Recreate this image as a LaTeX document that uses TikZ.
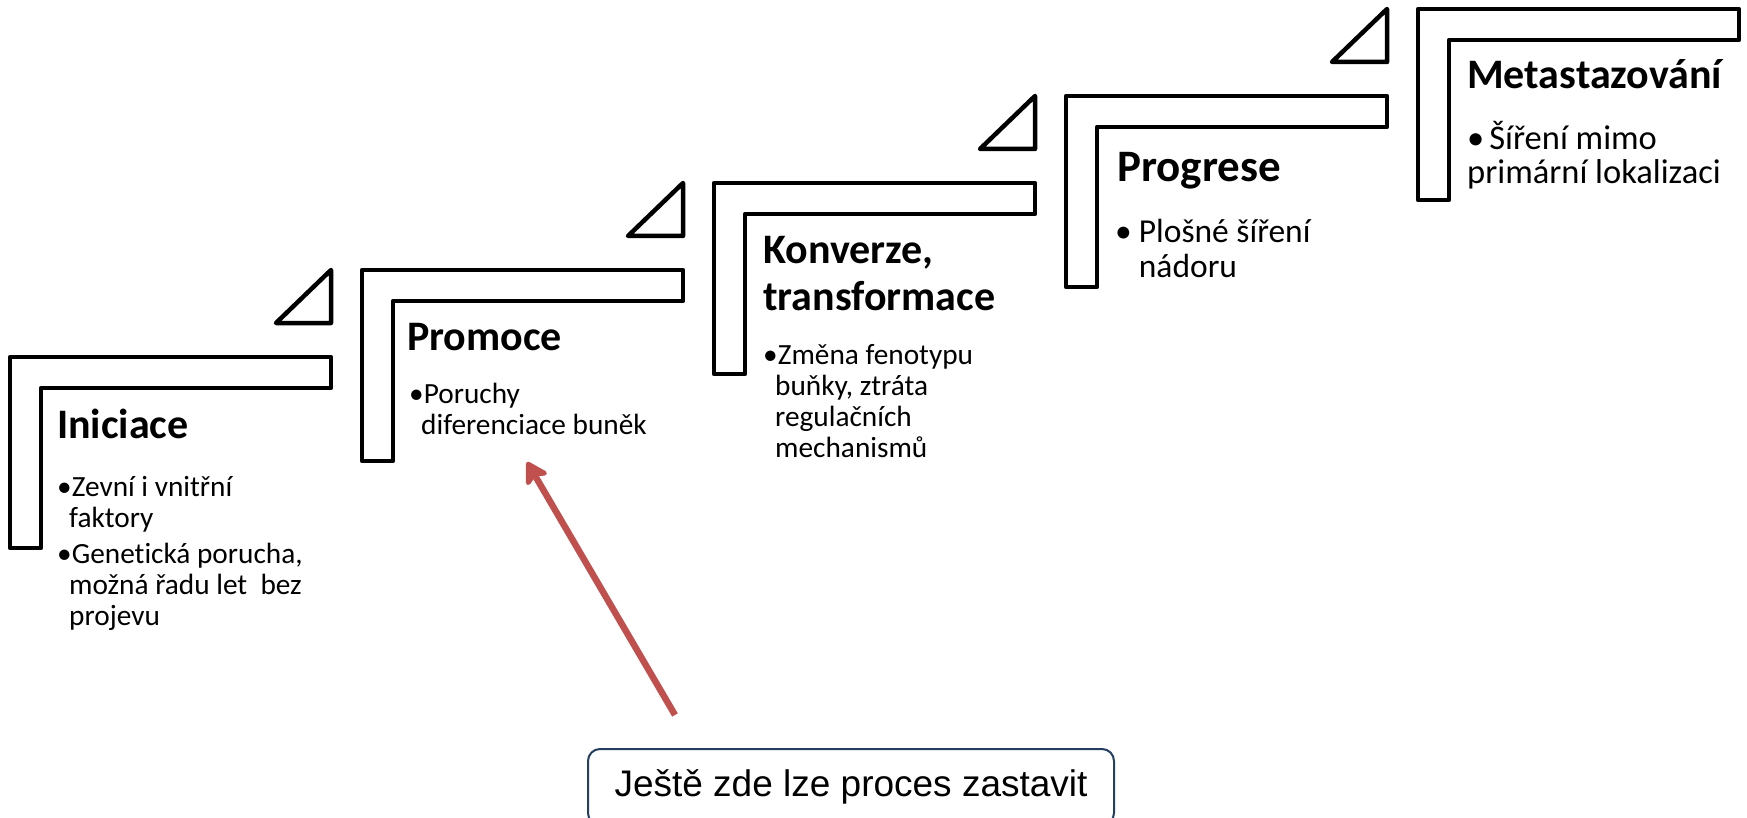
\documentclass[tikz,border=0pt]{standalone}
\usepackage{fontspec}
\setmainfont{Carlito}[Ligatures=NoCommon]
\newfontfamily\arialfont{Liberation Sans}
\usetikzlibrary{arrows.meta}
\definecolor{arrowred}{RGB}{192,80,77}
\definecolor{boxblue}{RGB}{36,63,96}
\tikzset{
  stair/.style={draw=black,line width=4.5pt,fill=white,line join=round},
  stagetitle/.style={anchor=base west,inner sep=0pt,align=left,font=\bfseries\fontsize{42}{47}\selectfont},
  stagetext/.style={anchor=base west,inner sep=0pt,align=left,font=\fontsize{29.3}{31}\selectfont},
  stopbox/.style={draw=boxblue,line width=2pt,rounded corners=12pt,fill=white,minimum width=526pt,minimum height=76pt,font=\arialfont\fontsize{37}{42}\selectfont},
  redarrow/.style={draw=arrowred,line width=6.5pt,-{Stealth[length=26pt,width=30pt,inset=7pt,round,fill=arrowred]}}
}
\begin{document}
\begin{tikzpicture}[x=1pt,y=-1pt]
	   \useasboundingbox (0,0) rectangle (1747,818);
	   \clip (0,0) rectangle (1747,818);
	   % stairs
	   \draw [stair] (10,357) -- (331,357) -- (331,388) -- (41,388) -- (41,548) -- (10,548) -- cycle;
	   \draw [stair] (362,270) -- (683,270) -- (683,301) -- (393,301) -- (393,461) -- (362,461) -- cycle;
	   \draw [stair] (714,183) -- (1035,183) -- (1035,214) -- (745,214) -- (745,374) -- (714,374) -- cycle;
	   \draw [stair] (1066,96) -- (1387,96) -- (1387,127) -- (1097,127) -- (1097,287) -- (1066,287) -- cycle;
	   \draw [stair] (1418,9) -- (1739,9) -- (1739,40) -- (1449,40) -- (1449,200) -- (1418,200) -- cycle;
	   % triangles
	   \draw [stair] (331,270) -- (276,323) -- (331,323) -- cycle;
	   \draw [stair] (683,183) -- (628,236) -- (683,236) -- cycle;
	   \draw [stair] (1035,96) -- (980,149) -- (1035,149) -- cycle;
	   \draw [stair] (1387,9) -- (1332,62) -- (1387,62) -- cycle;
	   % texts (anchored at the baseline of their last line)
	   \node [stagetitle] (iniciace) at (57,438) {Iniciace};
	   \node [stagetext] (iniciacetext) at (57,625) {\textbullet Zevní i vnitřní\\\hspace*{12pt}faktory\\[5pt]\textbullet Genetická porucha,\\\hspace*{12pt}možná řadu let\ \ bez\\\hspace*{12pt}projevu};
	   \node [stagetitle] (promoce) at (407,350) {Promoce};
	   \node [stagetext] (promocetext) at (409,434) {\textbullet Poruchy\\\hspace*{12pt}diferenciace buněk};
	   \node [stagetitle] (konverze) at (763,310) {Konverze,\\transformace};
	   \node [stagetext] (konverzetext) at (763,457) {\textbullet Změna fenotypu\\\hspace*{12pt}buňky, ztráta\\\hspace*{12pt}regulačních\\\hspace*{12pt}mechanismů};
	   \node [stagetitle,font=\bfseries\fontsize{45}{50}\selectfont] (progrese) at (1117,182) {Progrese};
	   \node [stagetext,font=\fontsize{33.5}{35}\selectfont] (progresetext) at (1115,277) {\textbullet\hspace*{7pt}Plošné šíření\\\phantom{\textbullet}\hspace*{7pt}nádoru};
	   \node [stagetitle] (metastazovani) at (1467,89) {Metastazování};
	   \node [stagetext,font=\fontsize{34.5}{34}\selectfont] (metastazovanitext) at (1467,184) {\textbullet\hspace*{5pt}Šíření mimo\\primární lokalizaci};
	   % note
	   \node [stopbox] (stop) at (851,787) {Ještě zde lze proces zastavit};
	   \coordinate (tip) at (527,462);
	   \draw [redarrow] ([xshift=88pt,yshift=33pt]stop.north west) -- (tip);
\end{tikzpicture}
\end{document}
